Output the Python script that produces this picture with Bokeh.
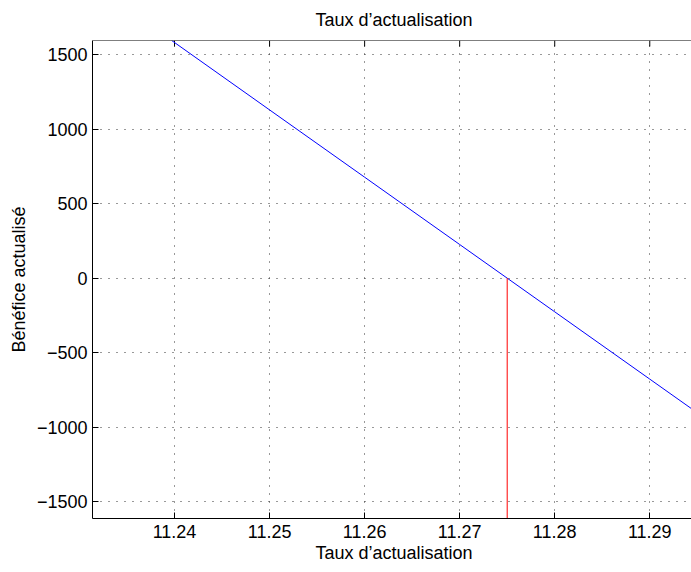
import math
from bokeh.plotting import figure
from bokeh.models import Range1d, FixedTicker, Span, Title
from bokeh.embed import file_html
from bokeh.resources import INLINE

# --- data ---
taux = [11.2397, 11.25, 11.26, 11.27, 11.275, 11.28, 11.29, 11.2950]
benefice = [1596, 1130, 678, 226, 0, -226, -678, -904]
taux_zero = [11.275, 11.275]
benefice_zero = [0, -1650]

x_ticks = [11.24, 11.25, 11.26, 11.27, 11.28, 11.29]
x_tick_labels = ["11.24", "11.25", "11.26", "11.27", "11.28", "11.29"]
y_ticks = [-1500, -1000, -500, 0, 500, 1000, 1500]
y_tick_labels = ["\u22121500", "\u22121000", "\u2212500", "0", "500", "1000", "1500"]

x_lim = (11.23137, 11.29439)
y_lim = (-1614, 1596)

title_text = "Taux d\u2019actualisation"
x_label = "Taux d\u2019actualisation"
y_label = "B\u00e9n\u00e9fice actualis\u00e9"

FONT = "Liberation Sans"
FS = "18px"

p = figure(width=691, height=572, output_backend="svg", toolbar_location=None,
           x_range=Range1d(*x_lim), y_range=Range1d(*y_lim),
           min_border_left=92, min_border_right=0, min_border_top=39, min_border_bottom=54)
p.outline_line_color = None
p.background_fill_color = "white"
p.border_fill_color = "white"

# title (above)
p.title.text = title_text
p.title.text_font = FONT
p.title.text_font_size = FS
p.title.text_font_style = "normal"
p.title.text_color = "black"
p.title.align = "left"
p.title.vertical_align = "top"
p.title.offset = 223
p.title.standoff = 18

def style_axis(ax):
    ax.axis_line_color = "black"
    ax.axis_line_width = 1
    ax.major_tick_in = 6
    ax.major_tick_out = 0
    ax.major_tick_line_color = "black"
    ax.minor_tick_line_color = None
    ax.major_label_text_font = FONT
    ax.major_label_text_font_size = FS
    ax.major_label_text_color = "black"
    ax.axis_label_text_font = FONT
    ax.axis_label_text_font_size = FS
    ax.axis_label_text_font_style = "normal"
    ax.axis_label_text_color = "black"

xa = p.xaxis[0]
xa.ticker = FixedTicker(ticks=x_ticks)
xa.major_label_overrides = dict(zip(x_ticks, x_tick_labels))
style_axis(xa)
xa.major_label_standoff = 6

# x-axis label as a below title so it can be centred like the reference
xl = Title(text=x_label, align="left", vertical_align="top", offset=223, standoff=4,
           text_font=FONT, text_font_size=FS, text_font_style="normal", text_color="black")
p.add_layout(xl, "below")

ya = p.yaxis[0]
ya.ticker = FixedTicker(ticks=y_ticks)
ya.major_label_overrides = dict(zip(y_ticks, y_tick_labels))
ya.axis_label = y_label
style_axis(ya)
ya.major_label_standoff = 5
ya.axis_label_standoff = 5

# top border of the box and inward top ticks
p.add_layout(Span(location=y_lim[1], dimension="width", line_color="black", line_width=1))
p.ray(x=x_ticks, y=[y_lim[1]] * len(x_ticks), length=6, length_units="screen",
      angle=-math.pi / 2, line_color="black", line_width=1)

for g in (p.xgrid[0], p.ygrid[0]):
    g.grid_line_color = "#333333"
    g.grid_line_width = 1
    g.grid_line_dash = "1 7"
p.xgrid[0].ticker = FixedTicker(ticks=x_ticks)
p.ygrid[0].ticker = FixedTicker(ticks=y_ticks)

p.line(taux, benefice, line_color="#0000ff", line_width=1)
p.line(taux_zero, benefice_zero, line_color="#ff0000", line_width=1)

open("out.html", "w").write(file_html(p, INLINE))
